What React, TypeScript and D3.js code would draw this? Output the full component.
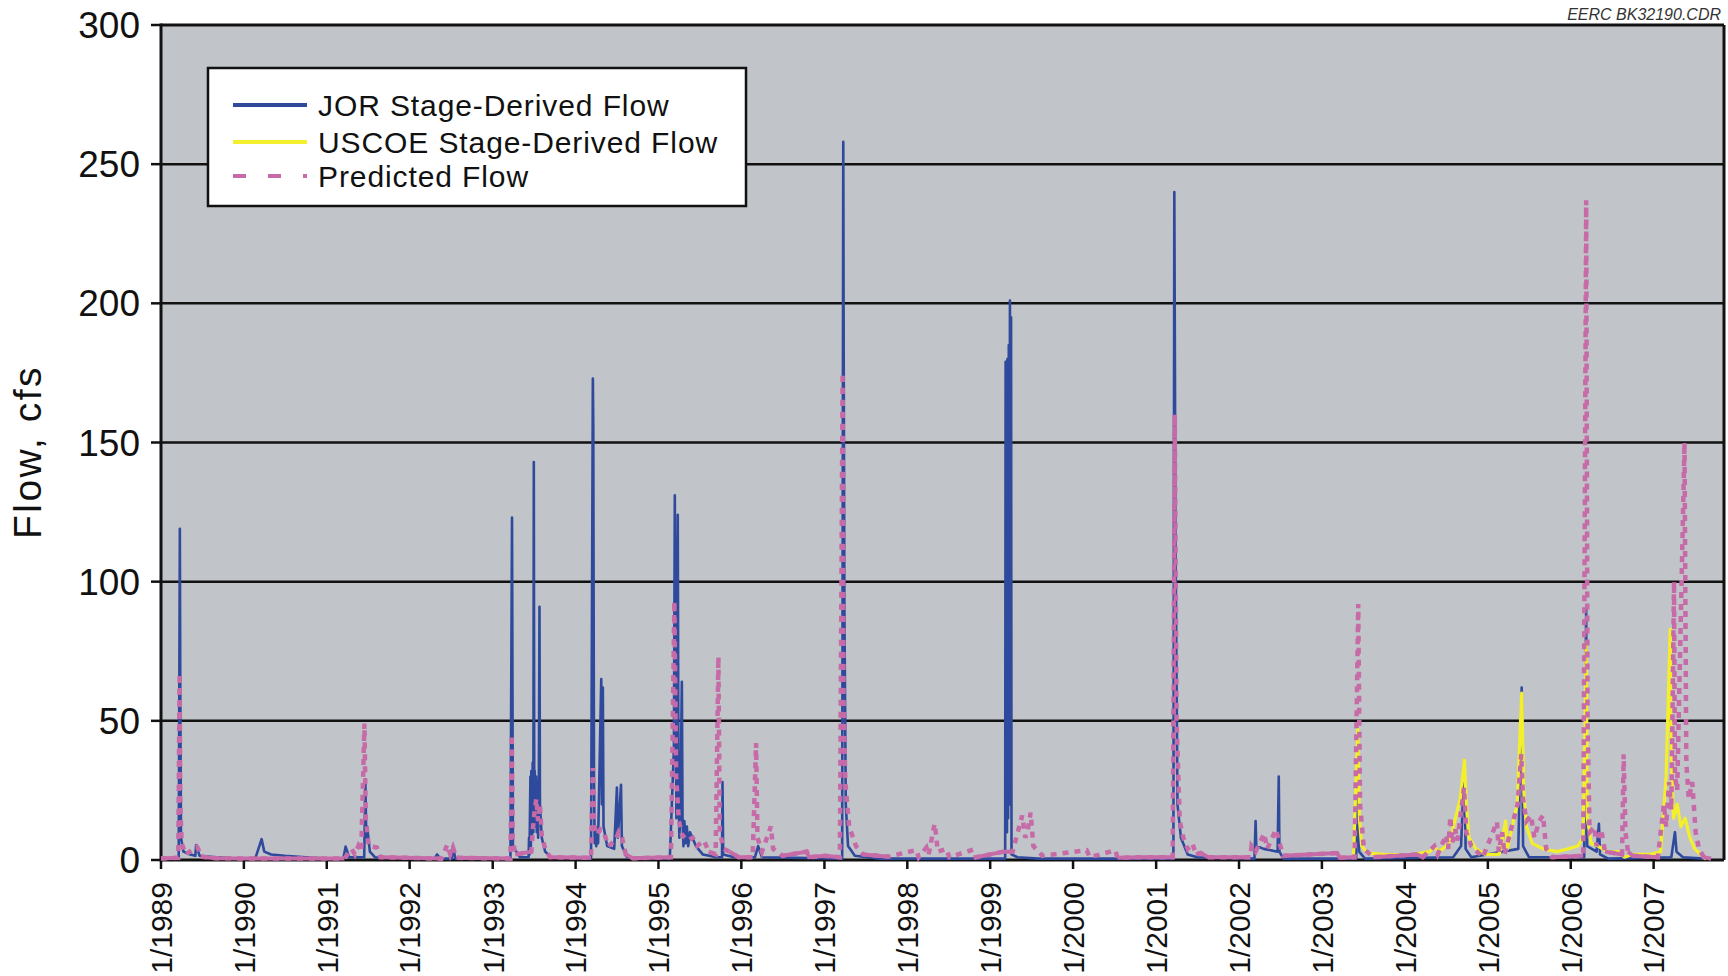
import React from "react";
import * as d3 from "d3";

type Pt = [string, number];

const yTicks: number[] = [0, 50, 100, 150, 200, 250, 300];
const xTickYears: number[] = [1989, 1990, 1991, 1992, 1993, 1994, 1995, 1996, 1997, 1998, 1999, 2000, 2001, 2002, 2003, 2004, 2005, 2006, 2007];
const seriesNames: string[] = ["JOR Stage-Derived Flow", "USCOE Stage-Derived Flow", "Predicted Flow"];

const jorFlow: Pt[] = [
  ["1989-01-01", 0.5], ["1989-03-20", 0.5], ["1989-03-25", 119], ["1989-03-27", 60], ["1989-03-30", 8],
  ["1989-04-10", 3], ["1989-05-10", 2], ["1989-06-01", 1.5], ["1989-06-05", 5.4], ["1989-06-20", 1.5], ["1989-09-01", 1],
  ["1989-12-01", 0.5], ["1990-02-20", 0.5], ["1990-03-10", 5], ["1990-03-20", 7.5], ["1990-04-01", 3],
  ["1990-05-01", 2], ["1990-07-01", 1.5], ["1990-10-01", 1], ["1990-12-31", 0.5], ["1991-03-15", 0.5],
  ["1991-03-25", 4.8], ["1991-04-10", 1], ["1991-06-15", 1], ["1991-06-20", 29], ["1991-06-24", 8], ["1991-06-28", 12],
  ["1991-07-10", 3], ["1991-08-01", 1], ["1992-04-20", 0.5], ["1992-05-01", 2], ["1992-05-15", 0.5],
  ["1992-07-05", 0.5], ["1992-07-10", 5], ["1992-07-20", 0.5], ["1993-03-20", 0.5], ["1993-03-27", 123], ["1993-03-31", 5],
  ["1993-04-15", 3], ["1993-05-01", 1], ["1993-06-08", 1], ["1993-06-10", 8], ["1993-06-12", 2],
  ["1993-06-16", 30], ["1993-06-18", 5], ["1993-06-20", 32], ["1993-06-23", 8], ["1993-06-26", 35],
  ["1993-06-29", 10], ["1993-07-01", 143], ["1993-07-03", 15], ["1993-07-05", 32], ["1993-07-08", 12],
  ["1993-07-11", 30], ["1993-07-14", 10], ["1993-07-17", 28], ["1993-07-20", 8], ["1993-07-23", 25],
  ["1993-07-26", 91], ["1993-07-28", 20], ["1993-08-05", 8], ["1993-08-20", 3], ["1993-09-15", 1],
  ["1994-03-10", 0.5], ["1994-03-18", 173], ["1994-03-20", 155], ["1994-03-23", 30], ["1994-03-26", 6],
  ["1994-03-29", 12], ["1994-04-02", 5], ["1994-04-06", 10], ["1994-04-10", 6],
  ["1994-04-24", 65], ["1994-04-27", 20], ["1994-05-01", 62], ["1994-05-04", 12], ["1994-05-20", 5],
  ["1994-06-20", 4], ["1994-07-02", 26], ["1994-07-06", 8], ["1994-07-20", 27], ["1994-07-24", 5],
  ["1994-08-15", 1], ["1995-02-20", 0.5], ["1995-03-10", 40], ["1995-03-14", 131], ["1995-03-18", 60],
  ["1995-03-21", 15], ["1995-03-27", 124], ["1995-03-30", 30], ["1995-04-03", 8], ["1995-04-07", 16],
  ["1995-04-14", 64], ["1995-04-17", 15], ["1995-04-21", 5], ["1995-04-25", 14], ["1995-05-01", 6],
  ["1995-05-06", 12], ["1995-05-12", 5], ["1995-05-20", 10], ["1995-06-15", 5], ["1995-07-15", 2],
  ["1995-09-15", 1], ["1995-10-08", 1], ["1995-10-10", 28], ["1995-10-13", 2], ["1995-12-01", 1],
  ["1996-03-01", 1], ["1996-03-15", 5], ["1996-04-01", 1], ["1997-03-20", 0.5], ["1997-03-25", 258],
  ["1997-03-27", 178], ["1997-03-30", 90], ["1997-04-05", 20], ["1997-04-15", 5], ["1997-05-15", 1.5],
  ["1997-09-01", 0.5], ["1999-03-08", 0.5], ["1999-03-10", 179], ["1999-03-12", 20], ["1999-03-14", 178],
  ["1999-03-16", 10], ["1999-03-18", 180], ["1999-03-21", 15], ["1999-03-24", 185], ["1999-03-27", 20],
  ["1999-03-29", 201], ["1999-04-01", 30], ["1999-04-03", 195], ["1999-04-05", 2], ["1999-05-01", 1],
  ["1999-08-01", 0.5], ["2001-03-18", 0.5], ["2001-03-22", 240], ["2001-03-24", 195], ["2001-03-27", 120],
  ["2001-04-05", 20], ["2001-04-20", 8], ["2001-05-20", 2], ["2001-07-01", 1], ["2002-03-10", 0.5],
  ["2002-03-15", 14], ["2002-03-18", 5], ["2002-04-20", 4], ["2002-06-20", 3], ["2002-06-25", 30],
  ["2002-06-28", 3], ["2002-07-15", 0.5], ["2003-06-01", 0.5], ["2003-06-08", 40], ["2003-06-14", 3],
  ["2003-07-10", 0.5], ["2004-08-01", 1], ["2004-09-05", 5], ["2004-09-20", 36], ["2004-09-25", 4],
  ["2004-10-20", 1], ["2005-05-15", 4], ["2005-05-30", 62], ["2005-06-05", 5], ["2005-07-01", 1],
  ["2006-03-01", 1], ["2006-03-10", 91], ["2006-03-14", 5], ["2006-04-25", 3], ["2006-05-05", 13],
  ["2006-05-10", 2], ["2006-06-15", 0.5], ["2007-03-20", 1], ["2007-04-05", 10], ["2007-04-12", 3],
  ["2007-05-10", 1], ["2007-08-10", 0.5]
];

const uscoeFlow: Pt[] = [
  ["2003-05-20", 0.5], ["2003-06-08", 47], ["2003-06-15", 15], ["2003-06-25", 5], ["2003-07-20", 2.5],
  ["2003-10-01", 2], ["2004-01-15", 1.8], ["2004-04-20", 3], ["2004-05-10", 4.8], ["2004-06-01", 3],
  ["2004-07-15", 6], ["2004-08-20", 18], ["2004-09-01", 22], ["2004-09-20", 36], ["2004-09-28", 20],
  ["2004-10-10", 8], ["2004-11-10", 4], ["2004-12-20", 2], ["2005-02-20", 2], ["2005-03-20", 14],
  ["2005-03-28", 4], ["2005-05-10", 20], ["2005-05-30", 60], ["2005-06-08", 25], ["2005-06-20", 12],
  ["2005-07-15", 6], ["2005-09-01", 4], ["2005-11-01", 3], ["2005-12-20", 4], ["2006-02-01", 5],
  ["2006-02-25", 8], ["2006-03-10", 78], ["2006-03-15", 15], ["2006-04-01", 6], ["2006-05-01", 5],
  ["2006-06-10", 3], ["2006-08-01", 3], ["2006-08-25", 1], ["2006-10-01", 2], ["2006-12-15", 2],
  ["2007-02-01", 3], ["2007-02-25", 30], ["2007-03-15", 83], ["2007-03-20", 35], ["2007-03-30", 15],
  ["2007-04-15", 20], ["2007-05-01", 12], ["2007-05-20", 15], ["2007-06-10", 8], ["2007-07-01", 4],
  ["2007-08-10", 1], ["2007-08-20", 0.3]
];

const predictedFlow: Pt[] = [
  ["1989-01-01", 0.5], ["1989-03-18", 0.8], ["1989-03-24", 67], ["1989-03-27", 20], ["1989-04-02", 6],
  ["1989-04-20", 2], ["1989-06-08", 4.8], ["1989-06-14", 4], ["1989-06-25", 1.2], ["1989-09-01", 0.6],
  ["1991-03-20", 0.5], ["1991-04-20", 4], ["1991-05-05", 2], ["1991-05-20", 5], ["1991-06-02", 3],
  ["1991-06-16", 49], ["1991-06-22", 15], ["1991-07-05", 5], ["1991-08-10", 4.5], ["1991-08-25", 1],
  ["1992-05-20", 0.5], ["1992-06-15", 5.5], ["1992-06-28", 2], ["1992-07-10", 4.5], ["1992-07-25", 0.8],
  ["1993-03-20", 0.5], ["1993-03-26", 45], ["1993-03-30", 8], ["1993-04-10", 2], ["1993-06-20", 3],
  ["1993-06-28", 12], ["1993-07-05", 18], ["1993-07-12", 22], ["1993-07-20", 14], ["1993-07-28", 20],
  ["1993-08-05", 9], ["1993-08-20", 4], ["1993-09-10", 1], ["1994-03-10", 0.8], ["1994-03-18", 33],
  ["1994-03-24", 12], ["1994-04-05", 9], ["1994-04-20", 11], ["1994-05-05", 10], ["1994-05-25", 5],
  ["1994-06-25", 7], ["1994-07-10", 10], ["1994-07-25", 8], ["1994-08-10", 2], ["1994-09-10", 0.6],
  ["1995-02-25", 1], ["1995-03-12", 93], ["1995-03-20", 30], ["1995-04-01", 14], ["1995-04-15", 9],
  ["1995-05-10", 7], ["1995-06-01", 8], ["1995-06-20", 5], ["1995-07-20", 7], ["1995-08-10", 3],
  ["1995-09-10", 2], ["1995-09-22", 73], ["1995-09-28", 10], ["1995-10-15", 4], ["1995-11-10", 3],
  ["1995-12-20", 1], ["1996-02-20", 1], ["1996-03-06", 42], ["1996-03-12", 8], ["1996-04-01", 3],
  ["1996-05-10", 12], ["1996-05-20", 4], ["1996-07-01", 1.5], ["1996-10-15", 3], ["1996-10-25", 1],
  ["1997-01-01", 1.5], ["1997-03-10", 1], ["1997-03-22", 175], ["1997-03-26", 60], ["1997-04-03", 28],
  ["1997-04-20", 12], ["1997-05-20", 5], ["1997-06-20", 2], ["1997-10-10", 1.2], ["1998-02-10", 3.6],
  ["1998-02-20", 1], ["1998-03-26", 4.5], ["1998-04-05", 2], ["1998-05-01", 13], ["1998-05-08", 9],
  ["1998-05-15", 3], ["1998-06-22", 4], ["1998-07-05", 1], ["1998-10-08", 3.5], ["1998-10-20", 0.8],
  ["1999-03-01", 3], ["1999-04-10", 3], ["1999-05-22", 16], ["1999-06-05", 8], ["1999-06-14", 10],
  ["1999-06-28", 17], ["1999-07-10", 5], ["1999-08-20", 1.5], ["2000-03-01", 3.5], ["2000-03-15", 1],
  ["2000-07-05", 3.5], ["2000-07-15", 0.8], ["2000-11-01", 1], ["2001-03-15", 1], ["2001-03-24", 160],
  ["2001-04-01", 50], ["2001-04-15", 14], ["2001-05-01", 8], ["2001-05-20", 4], ["2001-06-10", 6],
  ["2001-06-25", 2], ["2001-07-15", 2.5], ["2001-08-20", 1], ["2002-02-20", 1], ["2002-02-25", 5],
  ["2002-03-15", 3], ["2002-04-22", 9.5], ["2002-05-05", 4], ["2002-06-13", 11], ["2002-06-25", 7],
  ["2002-07-15", 1.5], ["2003-03-10", 2.5], ["2003-03-20", 0.8], ["2003-05-25", 1], ["2003-06-10", 92],
  ["2003-06-18", 20], ["2003-07-05", 4], ["2003-08-15", 1], ["2004-02-25", 2], ["2004-03-20", 1],
  ["2004-05-10", 5], ["2004-05-25", 2], ["2004-06-15", 6], ["2004-07-01", 9], ["2004-07-10", 4], ["2004-07-20", 15.5],
  ["2004-07-28", 6], ["2004-08-10", 11], ["2004-08-20", 7], ["2004-09-18", 26], ["2004-09-28", 10],
  ["2004-10-20", 5], ["2004-12-10", 1], ["2005-02-10", 13.7], ["2005-02-18", 3], ["2005-03-05", 10],
  ["2005-03-15", 2], ["2005-05-12", 20], ["2005-05-28", 38], ["2005-06-05", 22], ["2005-06-20", 14],
  ["2005-07-10", 16], ["2005-07-25", 8], ["2005-08-15", 14], ["2005-09-01", 16], ["2005-09-15", 4],
  ["2005-10-10", 1], ["2006-02-25", 1.5], ["2006-03-10", 237], ["2006-03-16", 50], ["2006-03-25", 10],
  ["2006-04-15", 12], ["2006-04-25", 5], ["2006-05-15", 11], ["2006-06-01", 3], ["2006-08-15", 2],
  ["2006-08-22", 38], ["2006-08-30", 10], ["2006-09-10", 3], ["2006-10-01", 1.5], ["2007-01-20", 1],
  ["2007-02-15", 20], ["2007-02-25", 12], ["2007-03-10", 28], ["2007-03-20", 18], ["2007-04-01", 100],
  ["2007-04-05", 30], ["2007-04-15", 25], ["2007-05-17", 150], ["2007-05-25", 35], ["2007-06-05", 22],
  ["2007-06-20", 28], ["2007-07-05", 10], ["2007-07-20", 4], ["2007-08-10", 1], ["2007-09-10", 0.5]
];

const W = 1728;
const H = 976;
const FONT = "'Liberation Sans', Arial, Helvetica, sans-serif";
const BLUE = "#2f4a9c";
const YELLOW = "#f4ef2c";
const PINK = "#c76aa8";
const PLOT_BG = "#c1c4c8";

export default function App() {
  const parse = d3.timeParse("%Y-%m-%d");
  const x = d3.scaleTime().domain([new Date(1989, 0, 1), new Date(2007, 10, 7)]).range([161, 1724]);
  const y = d3.scaleLinear().domain([0, 300]).range([860, 25]);
  const line = d3.line<Pt>().x((d) => x(parse(d[0]) as Date)).y((d) => y(d[1]));
  const lowLine = d3
    .line<Pt>()
    .defined((d) => d[1] <= 3)
    .x((d) => x(parse(d[0]) as Date))
    .y((d) => y(d[1]));

  const [x0, x1] = x.range();
  const [yb, yt] = y.range();

  const legend = { x: 208, y: 68, w: 538, h: 138 };
  const legendRows = [
    { name: seriesNames[0], color: BLUE, dash: undefined as string | undefined, cy: 105 },
    { name: seriesNames[1], color: YELLOW, dash: undefined as string | undefined, cy: 142 },
    { name: seriesNames[2], color: PINK, dash: "13,22", cy: 176 },
  ];

  return (
    <svg
      width={W}
      height={H}
      style={{ position: "absolute", left: 0, top: 0, background: "#fff" }}
      fontFamily={FONT}
    >
      <rect x={0} y={0} width={W} height={H} fill="#fff" />
      <rect x={x0} y={yt} width={x1 - x0} height={yb - yt} fill={PLOT_BG} />

      {yTicks.filter((t) => t > 0 && t < 300).map((t) => (
        <line key={"g" + t} x1={x0} x2={x1} y1={y(t)} y2={y(t)} stroke="#111" strokeWidth={2.5} />
      ))}

      <line x1={x0} x2={x1} y1={yt} y2={yt} stroke="#111" strokeWidth={3} />
      <line x1={x1} x2={x1} y1={yt} y2={yb} stroke="#111" strokeWidth={3} />
      <line x1={x0} x2={x0} y1={yt - 1.5} y2={yb + 1.5} stroke="#111" strokeWidth={3} />
      <line x1={x0} x2={x1} y1={yb} y2={yb} stroke="#111" strokeWidth={3} />

      {yTicks.map((t) => (
        <g key={"yt" + t}>
          <line x1={x0 - 10} x2={x0} y1={y(t)} y2={y(t)} stroke="#111" strokeWidth={2.5} />
          <text x={140} y={y(t) + 13} textAnchor="end" fontSize={37} fill="#111">
            {t}
          </text>
        </g>
      ))}

      {xTickYears.map((yr) => {
        const px = x(new Date(yr, 0, 1));
        return (
          <g key={"xt" + yr}>
            <line x1={px} x2={px} y1={yb} y2={yb + 9} stroke="#111" strokeWidth={2.5} />
            <text
              transform={`translate(${px},882) rotate(-90)`}
              textAnchor="end"
              dy="0.36em"
              fontSize={30}
              fill="#111"
            >
              {`1/${yr}`}
            </text>
          </g>
        );
      })}

      <text
        transform="translate(41,452) rotate(-90)"
        textAnchor="middle"
        fontSize={39}
        letterSpacing={2.5}
        fill="#111"
      >
        Flow, cfs
      </text>

      <text x={1721} y={20} textAnchor="end" fontSize={16} fontStyle="italic" fill="#333">
        EERC BK32190.CDR
      </text>

      <path d={line(jorFlow) || ""} fill="none" stroke={BLUE} strokeWidth={2.6} strokeLinejoin="round" />
      <path d={line(uscoeFlow) || ""} fill="none" stroke={YELLOW} strokeWidth={3.2} strokeLinejoin="round" />
      <path d={line(predictedFlow) || ""} fill="none" stroke={PINK} strokeWidth={4.5} strokeDasharray="6,6" />
      <path d={lowLine(predictedFlow) || ""} fill="none" stroke={PINK} strokeWidth={4} />

      <rect x={legend.x} y={legend.y} width={legend.w} height={legend.h} fill="#fff" stroke="#111" strokeWidth={2.5} />
      {legendRows.map((r) => (
        <g key={r.name}>
          <line x1={233} x2={307} y1={r.cy} y2={r.cy} stroke={r.color} strokeWidth={4} strokeDasharray={r.dash} />
          <text x={318} y={r.cy + 11} fontSize={30} letterSpacing={0.9} fill="#111">
            {r.name}
          </text>
        </g>
      ))}
    </svg>
  );
}
